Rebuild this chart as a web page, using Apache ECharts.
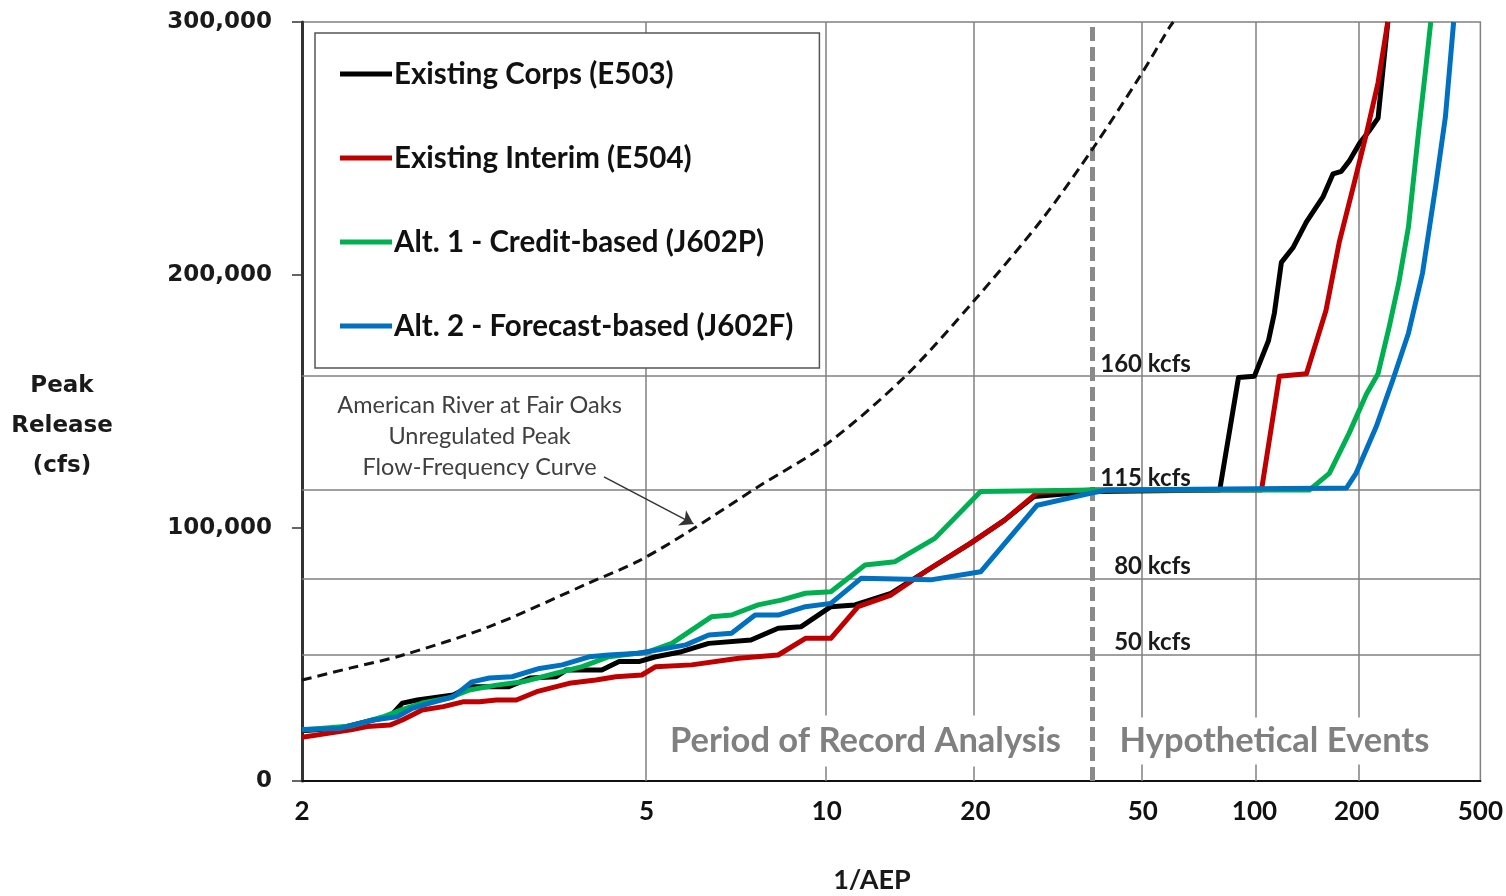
<!DOCTYPE html>
<html>
<head>
<meta charset="utf-8">
<script src="https://cdn.jsdelivr.net/npm/echarts@6/dist/echarts.min.js"></script>
<style>
  html, body { margin: 0; padding: 0; background: #fff; }
  #chart { width: 1506px; height: 896px; }
</style>
</head>
<body>
<div id="chart"></div>
<script>
// x values are return periods (1/AEP), y values are peak release in cfs
const xTicks = [2, 5, 10, 20, 50, 100, 200, 500];
const gridX = [5, 10, 20, 50, 100, 200];
const gridY = [50000, 80000, 115000, 160000];
const gridYLabels = ['50 kcfs', '80 kcfs', '115 kcfs', '160 kcfs'];
const boundaryT = 37.7;

const corpsT = [2.0, 2.16, 2.32, 2.41, 2.48, 2.57, 2.81, 2.93, 3.26, 3.46, 3.74, 3.86, 4.31, 4.56, 4.87, 5.16, 5.65, 6.24, 7.33, 8.17, 8.98, 10.18, 11.31, 13.31, 15.82, 19.53, 23.17, 27.1, 37.7, 80.0, 90.2, 100, 109.6, 114, 119.4, 129.3, 141.3, 158.4, 169.6, 179.7, 189.8, 204, 218.8, 233, 250];
const corpsQ = [19900, 20900, 24100, 25400, 30800, 32000, 34000, 37300, 37300, 40700, 41200, 43900, 43900, 47200, 47200, 49100, 51100, 54400, 55700, 60400, 61000, 68900, 69600, 74200, 83400, 94000, 103000, 112400, 114400, 115000, 159500, 160000, 174000, 185000, 205000, 211000, 221000, 231000, 240000, 241000, 245000, 252000, 257000, 262000, 300000];

const interimT = [2.0, 2.21, 2.29, 2.41, 2.48, 2.60, 2.74, 2.88, 3.01, 3.15, 3.33, 3.53, 3.89, 4.23, 4.51, 4.92, 5.16, 5.86, 6.99, 8.17, 9.14, 10.18, 11.47, 13.31, 15.82, 19.53, 23.17, 27.57, 37.7, 104.7, 117.8, 141.3, 161.5, 177.1, 195.5, 214.5, 233, 250];
const interimQ = [17300, 20200, 21500, 22100, 24100, 28100, 29400, 31300, 31300, 32000, 32000, 35300, 38600, 39900, 41200, 41900, 45200, 45900, 48500, 49800, 56400, 56400, 68900, 73500, 83400, 94000, 103000, 114000, 115000, 115000, 160000, 161000, 186000, 213000, 235000, 256000, 276000, 300000];

const creditT = [2.0, 2.21, 2.37, 2.47, 2.60, 2.78, 2.93, 3.15, 3.39, 3.74, 4.05, 4.41, 5.04, 5.46, 6.30, 6.80, 7.54, 8.27, 9.14, 10.18, 11.83, 13.56, 16.37, 20.53, 37.7, 144, 165.3, 189.8, 214.5, 233, 252.5, 270.8, 290.6, 312.8, 330.5, 342.8];
const creditQ = [20200, 21700, 25300, 28000, 30800, 32800, 36000, 37900, 39200, 42600, 45200, 49100, 51100, 54400, 64900, 65600, 69600, 71500, 74200, 74800, 85400, 86700, 95900, 114400, 115000, 115000, 121600, 137500, 153000, 161000, 179500, 197000, 219000, 256000, 282000, 300000];

const forecastT = [2.0, 2.16, 2.32, 2.45, 2.54, 2.65, 2.81, 2.95, 3.09, 3.29, 3.56, 3.81, 4.14, 4.41, 4.87, 5.74, 6.24, 6.80, 7.45, 8.17, 9.14, 10.18, 11.62, 16.04, 20.53, 27.57, 36.9, 40.6, 186.1, 199.4, 229.9, 259.2, 290.6, 322.5, 355.6, 382.8, 407.3];
const forecastQ = [20400, 20800, 24100, 25400, 28700, 30800, 33300, 39200, 40700, 41200, 44500, 45900, 49100, 49800, 50500, 53800, 57700, 58400, 65600, 65600, 68900, 70200, 80100, 79500, 82700, 109000, 113700, 115000, 115800, 121700, 140000, 158500, 177000, 200800, 235000, 262600, 300000];

const unregT = [2.0, 2.21, 2.47, 3.09, 4.14, 4.87, 5.80, 7.54, 10.06, 14.19, 19.9, 28.6, 37.7, 49.1, 58.7, 60];
const unregQ = [39900, 44700, 49500, 61000, 78300, 87000, 98600, 116300, 133600, 159800, 190000, 223000, 250700, 278400, 298000, 300000];

// normal probability scale: position = standard normal variate of non-exceedance
function invNorm(p) {
  const a = [-3.969683028665376e+01, 2.209460984245205e+02, -2.759285104469687e+02, 1.383577518672690e+02, -3.066479806614716e+01, 2.506628277459239e+00];
  const b = [-5.447609879822406e+01, 1.615858368580409e+02, -1.556989798598866e+02, 6.680131188771972e+01, -1.328068155288572e+01];
  const c = [-7.784894002430293e-03, -3.223964580411365e-01, -2.400758277161838e+00, -2.549732539343734e+00, 4.374664141464968e+00, 2.938163982698783e+00];
  const d = [7.784695709041462e-03, 3.224671290700398e-01, 2.445134137142996e+00, 3.754408661907416e+00];
  const pl = 0.02425, ph = 1 - pl;
  let q, r;
  if (p < pl) {
    q = Math.sqrt(-2 * Math.log(p));
    return (((((c[0]*q+c[1])*q+c[2])*q+c[3])*q+c[4])*q+c[5]) / ((((d[0]*q+d[1])*q+d[2])*q+d[3])*q+1);
  }
  if (p <= ph) {
    q = p - 0.5; r = q * q;
    return (((((a[0]*r+a[1])*r+a[2])*r+a[3])*r+a[4])*r+a[5])*q / (((((b[0]*r+b[1])*r+b[2])*r+b[3])*r+b[4])*r+1);
  }
  q = Math.sqrt(-2 * Math.log(1 - p));
  return -(((((c[0]*q+c[1])*q+c[2])*q+c[3])*q+c[4])*q+c[5]) / ((((d[0]*q+d[1])*q+d[2])*q+d[3])*q+1);
}
const zOf = t => invNorm(1 - 1 / t);
const pairs = (ts, qs) => ts.map((t, i) => [zOf(t), qs[i]]);

const LATO = 'Lato, "Open Sans", sans-serif';
const VERD = '"DejaVu Sans", Verdana, sans-serif';

let chart = echarts.init(document.getElementById('chart'));

const lineSeries = (name, color, ts, qs) => ({
  name: name,
  type: 'line',
  data: pairs(ts, qs),
  showSymbol: false,
  symbol: 'none',
  lineStyle: {color: color, width: 5, join: 'round'},
  itemStyle: {color: color},
  emphasis: {disabled: true},
  z: 3
});

const legendNames = ['Existing Corps (E503)', 'Existing Interim (E504)', 'Alt. 1 - Credit-based (J602P)', 'Alt. 2 - Forecast-based (J602F)'];

chart.setOption({
  animation: false,
  backgroundColor: '#fff',
  grid: {left: 302, right: 21, top: 22, bottom: 115, show: true, borderColor: '#808080', borderWidth: 1.5},
  xAxis: {
    type: 'value',
    min: 0,
    max: zOf(500),
    splitLine: {show: false},
    axisTick: {show: false},
    axisLine: {lineStyle: {color: '#111', width: 2}},
    axisLabel: {
      customValues: xTicks.map(zOf),
      formatter: v => {
        let hit = xTicks.find(t => Math.abs(zOf(t) - v) < 1e-6);
        return hit === undefined ? '' : String(hit);
      },
      margin: 18,
      fontFamily: LATO, fontWeight: 'bold', fontSize: 26, color: '#111'
    }
  },
  yAxis: {
    type: 'value',
    min: 0, max: 300000, interval: 100000,
    splitLine: {show: false},
    axisLine: {show: true, lineStyle: {color: '#333', width: 3}},
    axisTick: {show: true, length: 10, lineStyle: {color: '#333', width: 1.5}},
    axisLabel: {
      formatter: v => v.toLocaleString('en-US'),
      margin: 30,
      fontFamily: VERD, fontWeight: 'bold', fontSize: 23, color: '#1a1a1a'
    }
  },
  legend: {
    data: legendNames.map(n => ({name: n, icon: 'rect'})),
    orient: 'vertical',
    left: 315, top: 33,
    itemWidth: 52, itemHeight: 5, itemGap: 54,
    padding: [26, 26, 27, 25],
    backgroundColor: '#fff',
    borderColor: '#555', borderWidth: 1.5,
    textStyle: {fontFamily: LATO, fontWeight: 'bold', fontSize: 29.5, color: '#111', lineHeight: 30, padding: [0, 0, 0, -3]},
    z: 10
  },
  graphic: [
    {type: 'text', x: 62, y: 426, style: {text: 'Peak\nRelease\n(cfs)', align: 'center', verticalAlign: 'middle', font: 'bold 23px "DejaVu Sans"', lineHeight: 40, fill: '#1a1a1a'}},
    {type: 'text', x: 872, y: 880, style: {text: '1/AEP', align: 'center', verticalAlign: 'middle', font: 'bold 27px Lato', fill: '#1a1a1a'}}
  ],
  series: [
    {
      name: 'Unregulated',
      type: 'line',
      data: pairs(unregT, unregQ),
      smooth: 0.3,
      showSymbol: false,
      symbol: 'none',
      lineStyle: {color: '#111', width: 3, type: [10, 6]},
      emphasis: {disabled: true},
      z: 2,
      markLine: {
        z: 1,
        silent: true,
        symbol: ['none', 'none'],
        label: {show: false},
        emphasis: {disabled: true},
        lineStyle: {color: '#808080', width: 1.5, type: 'solid'},
        data: gridX.map(t => ({xAxis: zOf(t)}))
          .concat(gridY.map(v => ({yAxis: v})))
          .concat([{xAxis: zOf(boundaryT), lineStyle: {color: '#8a8a8a', width: 5, type: [14, 6]}}])
      }
    },
    lineSeries(legendNames[0], '#000000', corpsT, corpsQ),
    lineSeries(legendNames[1], '#c00000', interimT, interimQ),
    lineSeries(legendNames[2], '#00b050', creditT, creditQ),
    lineSeries(legendNames[3], '#0070c0', forecastT, forecastQ),
    {
      name: 'notes',
      type: 'line',
      data: [],
      silent: true,
      z: 5,
      markLine: {
        silent: true,
        symbol: ['none', 'arrow'],
        symbolSize: 13,
        label: {show: false},
        emphasis: {disabled: true},
        lineStyle: {color: '#333', width: 1.5, type: 'solid'},
        data: [[{coord: [zOf(4.34), 120200]}, {coord: [zOf(5.90), 101600]}]]
      },
      markPoint: {
        silent: true,
        symbol: 'circle',
        symbolSize: 1,
        itemStyle: {color: 'rgba(0,0,0,0)'},
        emphasis: {disabled: true},
        data: [
          {coord: [zOf(3.01), 136000], label: {show: true, position: 'inside', formatter: 'American River at Fair Oaks\nUnregulated Peak\nFlow-Frequency Curve', fontFamily: LATO, fontSize: 23.5, lineHeight: 31, color: '#404040', align: 'center'}},
          {coord: [zOf(11.85), 15800], label: {show: true, position: 'inside', formatter: 'Period of Record Analysis', fontFamily: LATO, fontWeight: 'bold', fontSize: 34.5, color: '#808080', backgroundColor: '#fff', padding: [8, 6]}},
          {coord: [zOf(114), 15800], label: {show: true, position: 'inside', formatter: 'Hypothetical Events', fontFamily: LATO, fontWeight: 'bold', fontSize: 34.5, color: '#808080', backgroundColor: '#fff', padding: [6, 6]}}
        ].concat(gridY.map((v, i) => ({
          coord: [zOf(67), v],
          label: {show: true, position: 'left', distance: 0, offset: [0, -12], formatter: gridYLabels[i], fontFamily: LATO, fontWeight: 'bold', fontSize: 24, color: '#1a1a1a'}
        })))
      }
    }
  ]
});
</script>
</body>
</html>
